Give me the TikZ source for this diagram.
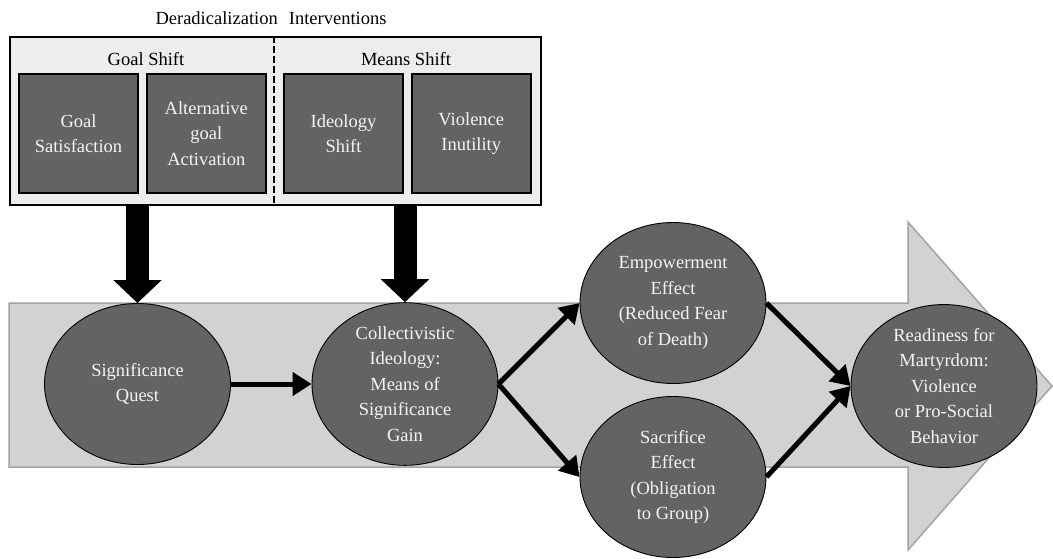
\documentclass[tikz,border=0pt]{standalone}
\usepackage{fontspec}
\setmainfont{Liberation Serif}
\usepackage{tikz}
\usetikzlibrary{shapes.geometric,arrows.meta,positioning}
\definecolor{darkfill}{HTML}{636363}
\definecolor{bandfill}{HTML}{D2D2D2}
\definecolor{bandline}{HTML}{A3A3A3}
\definecolor{framefill}{HTML}{EDEDED}
\definecolor{lighttext}{HTML}{F4F4F4}

\begin{document}
\begin{tikzpicture}[x=1pt,y=-1pt,
    txt/.style={font=\fontsize{18.5}{25.5}\selectfont, align=center},
    outerbox/.style={draw, line width=2pt, fill=framefill, minimum width=531pt, minimum height=168pt},
    innerbox/.style={txt, draw, line width=1.8pt, fill=darkfill, text=lighttext, minimum width=119pt, minimum height=119pt, inner sep=0pt},
    main/.style={txt, draw, ellipse, line width=0.9pt, fill=darkfill, text=lighttext, minimum width=186pt, minimum height=161pt, inner sep=0pt},
    blockarrow/.style={line width=23pt, -{Triangle[length=23pt, width=47pt]}},
    link/.style={line width=5pt, -{Triangle[length=19pt, width=23pt]}}]
            \useasboundingbox (0,0) rectangle (1053,558);
            \fill[bandfill, draw=bandline, line width=1.5pt] (9,303) -- (908,303) -- (908,222) -- (1052,386) -- (908,550) -- (908,467) -- (9,467) -- cycle;

            \node[txt] (title) at (271,18) {Deradicalization\hspace{0.6em}Interventions};
            \node[outerbox] (frame) at (275.5,121) {};
            \coordinate (divx) at (274,0);
            \draw[line width=1.5pt, dash pattern=on 7pt off 3pt] (frame.north -| divx) -- (frame.south -| divx);
            \node[txt] (goalhdr) at (146,59) {Goal Shift};
            \node[txt] (meanshdr) at (406,59) {Means Shift};
            \node[innerbox] (gsat) at (78.5,133.5) {Goal\\Satisfaction};
            \node[innerbox] (altgoal) [right=7pt of gsat] {Alternative\\goal\\Activation};
            \node[innerbox] (ideo) at (343.5,133.5) {Ideology\\Shift};
            \node[innerbox] (viol) [right=7pt of ideo] {Violence\\Inutility};

            \node[main] (sq) at (137.5,384) {Significance\\Quest};
            \node[main] (coll) at (405,384) {Collectivistic\\Ideology:\\Means of\\Significance\\Gain};
            \node[main] (emp) at (673,303) {Empowerment\\Effect\\(Reduced Fear\\of Death)};
            \node[main] (sac) at (673,477) {Sacrifice\\Effect\\(Obligation\\to Group)};
            \node[main] (ready) at (944,386) {Readiness for\\Martyrdom:\\Violence\\or Pro-Social\\Behavior};

            \draw[blockarrow] (frame.south -| sq) -- (sq.north);
            \draw[blockarrow] (frame.south -| coll) -- (coll.north);
            \draw[link] (sq) -- (coll);
            \draw[link] (coll.east) -- (emp.west);
            \draw[link] (coll.east) -- (sac.west);
            \draw[link] (emp.east) -- (ready.west);
            \draw[link] (sac.east) -- (ready.west);
          \end{tikzpicture}
\end{document}
